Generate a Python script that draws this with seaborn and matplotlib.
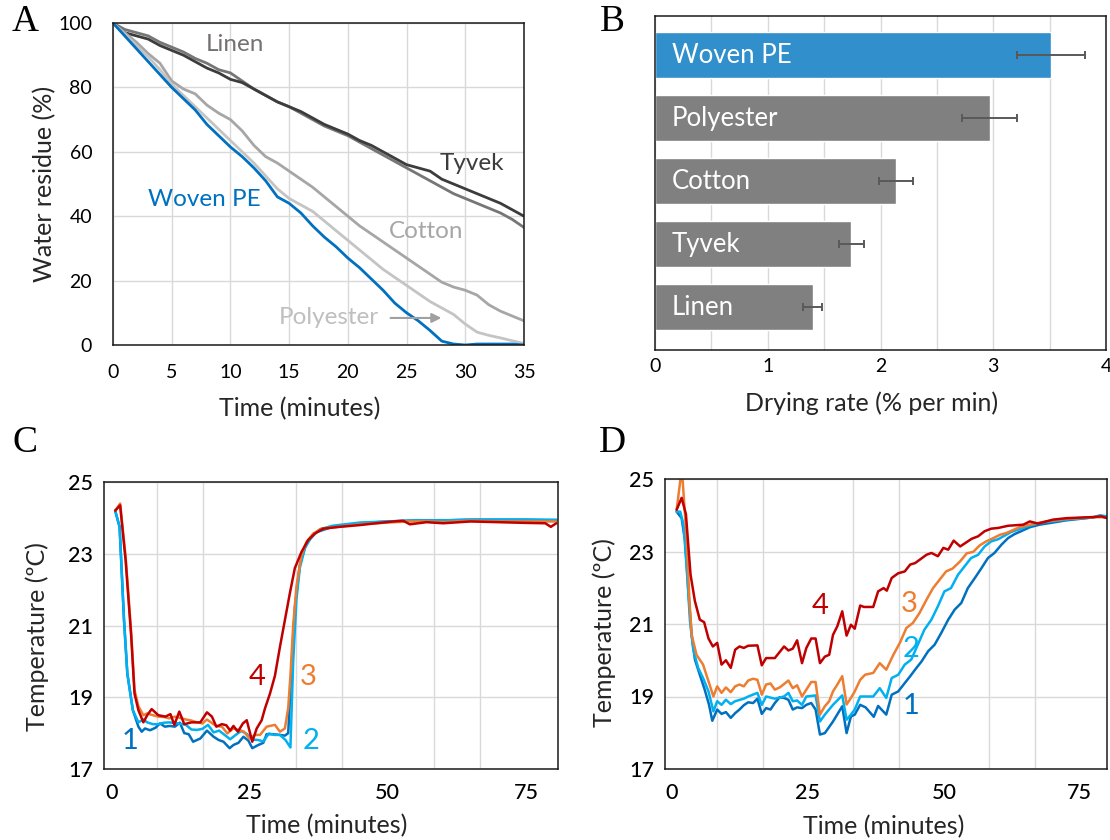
import numpy as np
import pandas as pd
import matplotlib
matplotlib.use("Agg")
import matplotlib.pyplot as plt
import seaborn as sns

sns.set_theme(style="white")
plt.rcParams['font.family'] = ['Lato', 'DejaVu Sans']

# ---------------- Panel A data ----------------
time_A = list(range(0, 36))
woven_pe = [100, 96, 92, 88, 84, 80, 76.5, 73, 68.5, 65, 61.5, 58.5, 55, 51, 46, 44, 41, 37,
            33.5, 30.5, 27, 24, 20.5, 17, 13, 10, 7.5, 4.5, 1.2, 0.3, 0, 0.3, 0.3, 0.3, 0.3, 0]
polyester = [100, 96.5, 93, 89.5, 85.5, 81, 77.5, 74, 70.5, 67, 63.5, 60, 56.5, 52.5, 48.5, 45.5,
             43.5, 41.5, 38.5, 35.5, 32.5, 29.5, 26.5, 23.5, 21, 18.5, 16, 13.5, 11.5, 9.5, 6.5,
             4, 3, 2.2, 1.3, 0.5]
cotton = [100, 97, 94, 90.5, 87.5, 82, 79.5, 78, 74.5, 72, 70, 66.5, 62, 58.5, 56.5, 54, 51.5,
          49, 46, 43, 40, 37, 34.5, 32, 29.5, 27, 24.5, 22, 19.5, 18, 17, 15.5, 12.5, 10.5, 9, 7.5]
tyvek = [100, 97, 96, 95, 93, 91.5, 90, 88, 86, 84.5, 82.5, 81.5, 79.5, 77.5, 75.5, 74, 72.5,
         70.5, 68.5, 67, 65.5, 63.5, 62, 60, 58, 56, 55, 54, 51.5, 50, 48.5, 47, 45.5, 44, 42, 40]
linen = [100, 98, 97, 96, 94, 92.5, 91, 89, 87.5, 85.5, 84.5, 82, 79.5, 77.5, 75.5, 74, 72, 70,
         68, 66.5, 65, 63, 61, 59, 57, 55, 53, 51, 49, 47, 45.5, 44, 42.5, 41, 39, 36.5]

# ---------------- Panel B data ----------------
fabrics_B = ["Woven PE", "Polyester", "Cotton", "Tyvek", "Linen"]
rate_B = [3.51, 2.97, 2.14, 1.74, 1.40]
err_B = [0.30, 0.245, 0.15, 0.11, 0.085]

# ---------------- Panel C data ----------------
c1_t = [0.7, 1.5, 2.3, 2.9, 3.9, 4.9, 5.5, 6.1, 7, 8, 8.8, 9.7, 10.6, 11.5, 12.4, 13.2, 14, 14.8,
        16.1, 17.3, 18.5, 19.4, 20.3, 21.4, 22.1, 23, 23.9, 24.8, 25.5, 26.6, 27.5, 28.1, 29.3,
        30.5, 31.4, 32, 32.6, 33.2, 34.1, 35.3, 37.1, 40, 45, 50, 55, 60, 65, 70, 75, 80.5]
c1_T = [24.2, 23.75, 21.15, 19.66, 18.64, 18.18, 18.04, 18.13, 18.08, 18.15, 18.27, 18.18, 18.2,
        18.18, 18.29, 18.0, 17.97, 17.76, 17.85, 18.07, 17.9, 17.81, 17.76, 17.58, 17.67, 17.73,
        17.9, 17.79, 17.58, 17.67, 17.73, 17.97, 17.97, 17.95, 17.93, 18.0, 19.8, 21.5, 22.7,
        23.3, 23.6, 23.75, 23.85, 23.9, 23.93, 23.93, 23.95, 23.95, 23.95, 23.93]
c2_t = [0.7, 1.5, 2.3, 2.9, 3.9, 4.9, 5.8, 6.5, 7.5, 8.5, 9.5, 10.5, 11.5, 12.5, 13.5, 14.5, 15.5,
        16.5, 17.5, 18.5, 19.5, 20.5, 21.5, 22.5, 23.5, 24.5, 25.5, 26.5, 27.5, 28.5, 29.5, 30.5,
        31.5, 32.4, 32.9, 33.5, 34.1, 35, 36.2, 37.7, 40, 45, 50, 55, 60, 65, 70, 75, 80.5]
c2_T = [24.2, 23.75, 21.15, 19.66, 18.64, 18.3, 18.38, 18.3, 18.25, 18.25, 18.29, 18.3, 18.28,
        18.26, 18.23, 18.1, 18.09, 18.12, 18.23, 18.02, 18.07, 17.95, 17.83, 17.95, 18.06, 17.98,
        17.82, 17.81, 17.77, 17.99, 17.95, 17.95, 17.81, 17.6, 20.0, 21.75, 22.6, 23.15, 23.47,
        23.68, 23.78, 23.87, 23.9, 23.93, 23.93, 23.95, 23.95, 23.95, 23.95]
c3_t = [0.7, 1.6, 2.6, 3.6, 4.2, 4.9, 5.8, 6.5, 7.5, 8.5, 9.5, 10.5, 11.5, 12.5, 13.5, 14.5, 15.5,
        16.5, 17.3, 18.2, 19, 20, 21, 22, 23, 24, 25, 26, 26.9, 28.1, 29.6, 30.5, 31.4, 32, 32.4,
        32.9, 33.5, 34.4, 35.3, 36.5, 38, 41, 45, 50, 54, 57, 60, 65, 70, 75, 80.5]
c3_T = [24.2, 24.4, 22.9, 20.8, 19.2, 18.75, 18.5, 18.55, 18.5, 18.46, 18.45, 18.41, 18.46, 18.42,
        18.38, 18.35, 18.3, 18.27, 18.38, 18.28, 18.2, 18.18, 17.99, 18.13, 18.09, 18.04, 17.85,
        17.95, 17.95, 18.18, 18.23, 18.04, 18.13, 18.7, 19.6, 21.0, 22.1, 22.96, 23.33, 23.56,
        23.7, 23.75, 23.82, 23.87, 23.9, 23.9, 23.88, 23.92, 23.9, 23.9, 23.9]
c4_t = [0.7, 1.6, 2.6, 3.6, 4.2, 4.9, 5.8, 6.5, 7.3, 8.5, 9.8, 10.7, 11.4, 12.3, 13.2, 14.5, 16.1,
        17.3, 18.2, 19.0, 20.0, 20.8, 21.5, 22.1, 22.9, 23.8, 24.5, 25.5, 26.3, 27.2, 27.8, 28.7,
        29.6, 30.5, 31.4, 32.3, 33.2, 34.4, 35.6, 36.8, 38.3, 41.3, 45, 47.3, 51, 52.8, 54, 57,
        60, 65, 70, 75, 78.5, 79.5, 80.5]
c4_T = [24.2, 24.35, 22.8, 20.7, 19.1, 18.64, 18.3, 18.5, 18.67, 18.5, 18.46, 18.53, 18.23, 18.6,
        18.25, 18.3, 18.3, 18.58, 18.46, 18.18, 18.25, 18.22, 18.07, 18.2, 18.04, 18.27, 18.36,
        17.76, 18.13, 18.36, 18.69, 19.1, 19.6, 20.4, 21.15, 21.9, 22.6, 23.05, 23.38, 23.56,
        23.7, 23.75, 23.8, 23.84, 23.9, 23.92, 23.82, 23.88, 23.85, 23.9, 23.88, 23.86, 23.85,
        23.75, 23.85]

# ---------------- Panel D data ----------------
d1_t = [0.84, 1.76, 2.4, 3.0, 3.6, 4.2, 5.1, 6.0, 6.8, 7.4, 8.3, 9.1, 9.9, 10.8, 11.6, 12.4, 13.2,
        14, 14.9, 15.7, 16.5, 17.3, 18.1, 18.9, 19.8, 20.6, 21.4, 22.2, 23, 23.9, 24.7, 25.6, 26.4,
        27.2, 28.1, 29.6, 31.3, 32.1, 32.9, 33.6, 34.6, 35.6, 37.1, 37.9, 39.4, 40.4, 41.6, 42.8,
        43.8, 44.7, 45.9, 47.1, 48.3, 49.5, 50.8, 52, 53.2, 54.4, 55.7, 56.9, 58.1, 59.3, 60.6,
        61.8, 63, 64.2, 65.8, 67.6, 70.1, 72.5, 76.2, 78.7, 80]
d1_T = [24.1, 23.92, 23.28, 21.9, 20.7, 20.02, 19.6, 19.19, 18.77, 18.33, 18.64, 18.52, 18.57,
        18.41, 18.54, 18.64, 18.76, 18.84, 18.82, 18.94, 18.52, 18.68, 18.64, 18.82, 18.98, 18.96,
        18.91, 18.64, 18.7, 18.68, 18.77, 18.82, 18.64, 17.95, 17.99, 18.31, 18.73, 17.99, 18.45,
        18.5, 18.77, 18.7, 18.44, 18.74, 18.5, 19.05, 19.14, 19.37, 19.56, 19.74, 19.97, 20.25,
        20.43, 20.75, 21.12, 21.4, 21.58, 21.99, 22.27, 22.54, 22.82, 22.96, 23.19, 23.37, 23.48,
        23.56, 23.67, 23.74, 23.8, 23.86, 23.92, 23.97, 23.94]
d2_t = [0.84, 1.5, 2.1, 2.7, 3.3, 3.9, 4.8, 5.7, 6.7, 7.6, 8.3, 9.1, 9.9, 10.8, 11.6, 13.2, 14,
        15.7, 16.5, 17.3, 18.9, 20.6, 21.4, 22.2, 23, 23.9, 24.7, 26.4, 27.2, 28.1, 29.6, 31.3,
        32.1, 32.9, 33.6, 34.6, 37, 38.2, 39.4, 40.4, 41.6, 42.8, 44, 45.2, 46.4, 47.7, 48.9, 50.1,
        51.3, 52.6, 53.8, 55, 56.3, 57.5, 58.7, 60, 61.2, 62.4, 63.6, 65.2, 67, 68.8, 72.5, 77.5,
        78.7, 80]
d2_T = [24.1, 24.1, 23.74, 22.54, 21.07, 20.29, 19.79, 19.51, 19.14, 18.59, 18.87, 18.77, 18.91,
        18.79, 18.87, 18.94, 19.0, 19.1, 18.77, 19.0, 18.94, 19.0, 19.1, 18.87, 18.89, 18.77, 19.0,
        19.03, 18.31, 18.5, 18.77, 19.03, 18.36, 18.5, 18.64, 19.0, 19.0, 19.23, 18.96, 19.51,
        19.6, 19.88, 20.02, 20.43, 20.84, 21.12, 21.49, 21.9, 21.99, 22.36, 22.59, 22.82, 22.91,
        23.14, 23.28, 23.34, 23.44, 23.54, 23.6, 23.69, 23.76, 23.81, 23.88, 23.94, 24.0, 23.97]
d3_t = [0.84, 1.8, 2.7, 3.2, 3.6, 4.5, 5.7, 6.7, 7.6, 8.3, 9.1, 9.9, 10.8, 11.6, 12.4, 13.2, 14,
        14.9, 15.7, 16.5, 17.3, 18.1, 18.9, 19.8, 21.4, 22.2, 23, 23.9, 24.7, 25.6, 26.4, 27.2,
        28.1, 28.9, 29.6, 30.4, 31.3, 32.1, 32.9, 33.6, 34.6, 35.5, 37, 38.2, 39.4, 40.7, 41.9,
        43.1, 44.3, 45.5, 46.8, 48, 49.2, 50.4, 51.6, 53, 54.2, 55.4, 56.6, 57.8, 59.1, 60.3, 61.5,
        62.7, 63.9, 65.2, 66.4, 68.8, 72.5, 77.5, 80]
d3_T = [24.15, 25.3, 23.28, 21.63, 20.7, 20.15, 19.88, 19.42, 19.0, 19.28, 19.1, 19.25, 19.12,
        19.28, 19.33, 19.28, 19.44, 19.49, 19.46, 19.05, 19.33, 19.36, 19.19, 19.25, 19.44, 19.23,
        19.31, 19.0, 19.19, 19.4, 19.4, 18.5, 18.73, 18.87, 19.14, 19.33, 19.56, 18.78, 18.96,
        19.14, 19.46, 19.6, 19.65, 19.92, 19.74, 20.15, 20.48, 20.89, 21.03, 21.3, 21.67, 21.99,
        22.22, 22.45, 22.53, 22.73, 22.95, 22.99, 23.17, 23.28, 23.37, 23.46, 23.51, 23.59, 23.67,
        23.72, 23.76, 23.83, 23.9, 23.95, 23.94]
d4_t = [0.84, 1.76, 2.55, 3.4, 4.2, 5.1, 5.9, 6.7, 7.5, 8.3, 9.1, 9.9, 10.8, 11.6, 12.4, 13.2, 14,
        15.7, 16.5, 17.3, 18.9, 20.6, 21.4, 22.2, 23, 23.9, 24.7, 25.6, 26.4, 27.2, 28.1, 28.9,
        29.6, 30.4, 31.3, 32.1, 32.9, 33.6, 34.6, 35.3, 37, 37.9, 38.9, 39.5, 40.4, 41.6, 42.8,
        43.8, 44.7, 46.8, 47.7, 48.9, 49.9, 50.8, 51.8, 53, 53.9, 55.1, 56.3, 57.5, 58.7, 60, 61.8,
        64.6, 65.8, 67.3, 70.1, 72.6, 77.5, 79, 80]
d4_T = [24.15, 24.48, 24.03, 22.36, 21.63, 21.12, 21.05, 20.6, 20.38, 20.48, 19.88, 20.0, 19.79,
        20.29, 20.38, 20.34, 20.4, 20.41, 19.86, 20.06, 20.06, 20.38, 20.27, 20.32, 20.55, 19.92,
        20.34, 20.6, 20.6, 19.92, 20.1, 20.15, 20.7, 20.94, 21.35, 20.68, 20.98, 20.87, 21.51,
        21.47, 21.47, 21.9, 21.99, 21.92, 22.27, 22.4, 22.45, 22.64, 22.68, 22.91, 22.96, 22.87,
        23.1, 23.05, 23.3, 23.14, 23.23, 23.35, 23.42, 23.56, 23.63, 23.65, 23.71, 23.74, 23.83,
        23.77, 23.88, 23.92, 23.95, 23.97, 23.92]

series_names = ["1", "2", "3", "4"]
temp_colors = {"1": "#0070C0", "2": "#00B0F0", "3": "#ED7D31", "4": "#C00000"}

GRID = "#D9D9D9"
LABEL_FS = 18

fig = plt.figure(figsize=(11.1, 8.4), dpi=100)

def style_box(ax, fs, padx, pady):
    for s in ax.spines.values():
        s.set_visible(True)
        s.set_color("#1a1a1a")
        s.set_linewidth(1.1)
    ax.tick_params(which="both", length=0, labelsize=fs, colors="black")
    ax.tick_params(axis="x", pad=padx)
    ax.tick_params(axis="y", pad=pady)
    ax.set_axisbelow(True)

# ================= Panel A =================
axA = fig.add_axes([113/1110, 1-345/840, 411/1110, 322/840])
dfA = pd.DataFrame({
    "t": time_A * 5,
    "v": linen + tyvek + cotton + polyester + woven_pe,
    "fabric": (["Linen"] * 36 + ["Tyvek"] * 36 + ["Cotton"] * 36 +
               ["Polyester"] * 36 + ["Woven PE"] * 36),
})
colA = {"Linen": "#767676", "Tyvek": "#3C3C3C", "Cotton": "#A6A6A6",
        "Polyester": "#C4C4C4", "Woven PE": "#0070C0"}
sns.lineplot(data=dfA, x="t", y="v", hue="fabric", palette=colA, linewidth=2.0,
             legend=False, ax=axA, estimator=None)
axA.set_xlim(0, 35)
axA.set_ylim(0, 100)
axA.set_xticks(range(0, 36, 5))
axA.set_yticks(range(0, 101, 20))
axA.grid(True, color=GRID, linewidth=1.0)
style_box(axA, 14, 14, 15)
axA.set_xlabel("Time (minutes)", fontsize=LABEL_FS)
axA.set_ylabel("Water residue (%)", fontsize=LABEL_FS)
axA.xaxis.set_label_coords(0.455, -0.16)
axA.yaxis.set_label_coords(-0.139, 0.5)
lab_fs = 17.5
axA.text(10.4, 93.2, "Linen", color="#767171", fontsize=lab_fs, ha="center", va="center")
axA.text(30.6, 56.5, "Tyvek", color="#3C3C3C", fontsize=lab_fs, ha="center", va="center")
axA.text(7.8, 45.3, "Woven PE", color="#0070C0", fontsize=lab_fs, ha="center", va="center")
axA.text(26.7, 35.1, "Cotton", color="#A6A6A6", fontsize=lab_fs, ha="center", va="center")
axA.text(18.4, 8.4, "Polyester", color="#BFBFBF", fontsize=lab_fs, ha="center", va="center")
axA.annotate("", xy=(28.2, 8.4), xytext=(23.4, 8.4),
             arrowprops=dict(arrowstyle="-|>", color="#A0A0A0", lw=1.5, mutation_scale=14))

# ================= Panel B =================
axB = fig.add_axes([655/1110, 1-350/840, 451/1110, 334/840])
dfB = pd.DataFrame({"fabric": fabrics_B, "rate": rate_B})
colB = {"Woven PE": "#318FCC", "Polyester": "#808080", "Cotton": "#808080",
        "Tyvek": "#808080", "Linen": "#808080"}
sns.barplot(data=dfB, x="rate", y="fabric", hue="fabric", palette=colB, saturation=1,
            width=0.73, legend=False, ax=axB, errorbar=None, order=fabrics_B)
axB.errorbar(rate_B, np.arange(len(fabrics_B)), xerr=err_B, fmt="none",
             ecolor="#595959", elinewidth=1.4, capsize=3, capthick=1.4)
for i, f in enumerate(fabrics_B):
    axB.text(0.15, i, f, color="white", fontsize=18.5, ha="left", va="center")
axB.set_xlim(0, 4)
axB.set_ylim(4.68, -0.62)
axB.set_xticks([0, 1, 2, 3, 4])
axB.set_xticks(np.arange(0.5, 4, 1.0), minor=True)
axB.set_yticks([])
axB.grid(True, axis="x", which="both", color=GRID, linewidth=1.0)
axB.grid(False, axis="y")
style_box(axB, 14, 6, 6)
axB.set_xlabel("Drying rate (% per min)", fontsize=LABEL_FS)
axB.xaxis.set_label_coords(0.48, -0.125)
axB.set_ylabel("")

# ================= Panels C & D =================
def temp_panel(rect, ts, Ts, xlim, labels, ylab_x, ylab_y, xlab_x):
    ax = fig.add_axes(rect)
    frames = []
    for name, tt, TT in zip(series_names, ts, Ts):
        frames.append(pd.DataFrame({"t": tt, "T": TT, "s": name}))
    df = pd.concat(frames, ignore_index=True)
    sns.lineplot(data=df, x="t", y="T", hue="s", palette=temp_colors, linewidth=1.8,
                 legend=False, ax=ax, estimator=None)
    ax.set_xlim(*xlim)
    ax.set_ylim(17, 25)
    ax.set_xticks([0, 25, 50, 75])
    ax.set_xticks(np.arange(0, 80, 25/3), minor=True)
    ax.set_yticks([17, 19, 21, 23, 25])
    ax.grid(True, axis="x", which="minor", color=GRID, linewidth=1.0)
    ax.grid(True, axis="y", which="major", color=GRID, linewidth=1.0)
    ax.grid(False, axis="x", which="major")
    style_box(ax, 15.5, 10, 8)
    for lbl in ax.get_xticklabels() + ax.get_yticklabels():
        lbl.set_fontweight("medium")
    ax.set_xlabel("Time (minutes)", fontsize=LABEL_FS)
    ax.set_ylabel("Temperature (\u00baC)", fontsize=LABEL_FS)
    ax.xaxis.set_label_coords(xlab_x, -0.158)
    ax.yaxis.set_label_coords(ylab_x, ylab_y)
    for name, (x, y) in labels.items():
        ax.text(x, y, name, color=temp_colors[name], fontsize=21, ha="center", va="center")
    return ax

axC = temp_panel([104/1110, 1-769/840, 454/1110, 287/840],
                 [c1_t, c2_t, c3_t, c4_t], [c1_T, c2_T, c3_T, c4_T], (-1.32, 80.8),
                 {"1": (3.4, 17.78), "2": (36.1, 17.78), "3": (35.6, 19.56), "4": (26.4, 19.56)},
                 -0.121, 0.46, 0.49)
axD = temp_panel([665/1110, 1-769/840, 442/1110, 290/840],
                 [d1_t, d2_t, d3_t, d4_t], [d1_T, d2_T, d3_T, d4_T], (-1.3, 80.0),
                 {"1": (43.9, 18.75), "2": (43.9, 20.3), "3": (43.7, 21.55), "4": (27.2, 21.5)},
                 -0.111, 0.47, 0.495)

# panel letters
for ch, (x, y) in {"A": (25, 22), "B": (612, 22), "C": (25, 443), "D": (612, 443)}.items():
    fig.text(x/1110, 1-y/840, ch, fontsize=27, family="Liberation Serif",
             ha="center", va="center", color="black")

fig.savefig("out.png", dpi=100)
